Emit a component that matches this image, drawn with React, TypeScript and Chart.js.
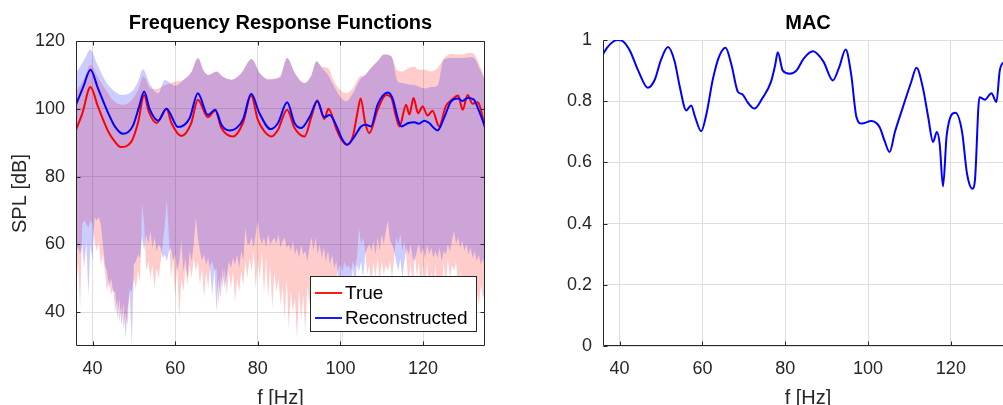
import React, { useEffect, useRef } from "react";
import { Chart, registerables } from "chart.js";

Chart.register(...registerables);

const FONT = "'Liberation Sans', Arial, Helvetica, sans-serif";
const INK = "#262626";
const GRID = "#dfdfdf";

// ---------- axes ----------
const freqTicks = [40, 60, 80, 100, 120];
const splTicks = [40, 60, 80, 100, 120];
const macTicks = [0, 0.2, 0.4, 0.6, 0.8, 1];
const freqRange = [36, 135];
const splRange = [30, 120];
const macRange = [0, 1];

// ---------- FRF lines [f, dB] ----------
const trueResponse: [number, number][] = [
  [36, 93.8], [37.5, 98.5], [39.5, 106.4], [41.3, 100.7], [43.8, 93.3], [45.4, 90.3], [46.8, 88.7],
  [49.4, 90.3], [51, 95.8], [52.5, 104.1], [53.6, 99.2], [55.5, 95.8], [57.9, 100], [59.1, 95.8],
  [61.5, 92], [63.9, 95.8], [65.5, 102.7], [67.9, 97.5], [69.7, 99.5], [71.2, 94.3], [74, 91.8],
  [76.4, 95.8], [78.4, 103.9], [80, 96.8], [81.6, 93.3], [83.3, 91.8], [84.9, 93.8], [87.1, 99.7],
  [88.9, 94.3], [91.3, 91.8], [93, 97.7], [94.4, 102.5], [96.1, 97], [97.1, 100], [99.1, 93.8],
  [100.3, 90.8], [101.6, 89.4], [103, 91.8], [104.1, 98.7], [104.9, 103], [106, 95.8], [107, 92.8],
  [109, 99.7], [111.1, 104.1], [112.3, 103.3], [113.5, 97.5], [114.3, 94.8], [115.9, 101.2],
  [116.7, 98.3], [117.7, 103.2], [118.8, 98.7], [119.9, 100.7], [121.1, 98], [122.3, 99.4],
  [123.9, 94.8], [125.5, 100.7], [127.1, 102.8], [128.5, 103.9], [129.6, 99.7], [130.8, 104.1],
  [132, 101.5], [133.2, 101.9], [135.2, 93.4],
];

const reconResponse: [number, number][] = [
  [36, 101.2], [37.8, 106.6], [39.5, 111.5], [41.3, 106.1], [43.8, 98.7], [45.4, 94.8], [47.4, 92.6],
  [49.7, 94.8], [51.3, 100.7], [52.5, 105.1], [53.8, 100], [55.9, 96.5], [57.9, 100], [60.7, 94.6],
  [63.5, 97.2], [65.5, 104.6], [67.9, 98.2], [69.7, 99.7], [71.2, 95.3], [73.2, 93.6], [76.4, 96.8],
  [78.4, 104.4], [80.4, 98.7], [83.1, 94], [84.9, 95.8], [87.1, 101.9], [88.9, 95.8], [90.5, 94.3],
  [92.6, 97.7], [94.4, 102.2], [96.1, 97.5], [97.4, 98.2], [99.1, 94.8], [100.3, 91.3], [101.6, 89.4],
  [103.4, 91.8], [105, 94.8], [106.2, 95.3], [107.4, 94.8], [109, 101.2], [111.5, 104.8],
  [112.7, 102.8], [113.7, 98], [114.7, 94.8], [116.5, 95.8], [117.9, 96], [119, 95.6], [120.3, 96.5],
  [121.5, 95.8], [122.5, 94.5], [123.5, 93.6], [125, 97], [126.8, 102.2], [128.5, 103], [129.5, 102.3],
  [130.8, 103.2], [132.3, 102.7], [133.5, 99.5], [135.2, 94],
];

// ---------- band upper edges [f, dB] ----------
const trueUpper: [number, number][] = [
  [36, 105], [38, 109], [39.5, 113], [41, 110], [43, 106], [45, 102.5], [47, 101.2], [49, 102],
  [51, 105.5], [52.3, 109.6], [54, 106], [55.5, 105.8], [57.5, 107], [60, 108], [62, 108.5], [64, 111],
  [65.5, 115], [67, 111], [68.1, 110], [70, 111], [71.5, 109.5], [73.6, 108.6], [76, 110.5],
  [78.5, 114.7], [80.5, 110.5], [82.6, 108.8], [85.4, 109.6], [87.1, 115], [89, 110.5], [91.3, 107.6],
  [93, 110], [94.2, 114], [95.5, 112.5], [97, 112], [98.5, 108], [100, 105.5], [101.4, 104.6],
  [103, 106], [104.7, 109.5], [106, 110], [107.4, 112], [109, 114], [110.6, 116], [112.3, 115.5],
  [113.9, 111.2], [115, 111], [116.5, 112], [117.9, 112.5], [119, 111.5], [120.4, 111.5], [122, 111],
  [123.5, 112], [125.5, 115.5], [127, 116.2], [128.5, 116], [130, 116.2], [131.5, 116.5],
  [132.3, 116.2], [134, 112], [135.2, 108],
];

const reconUpper: [number, number][] = [
  [36, 110.5], [38, 114.5], [39.5, 117.4], [41, 113.5], [43, 108.5], [45, 105.5], [47.4, 104.1],
  [49.8, 105.5], [51, 108], [52.2, 111.7], [54, 107], [55.9, 104.6], [57.5, 108.5], [60, 106.8],
  [62, 108.5], [64, 111], [65.5, 115], [67, 111], [68.1, 110], [70, 111], [71.5, 109.5], [73.6, 108.6],
  [76, 110.5], [78.5, 114.7], [80.5, 110.5], [82.6, 108.6], [85.4, 109.2], [87.1, 115], [89, 110.5],
  [91.3, 107.6], [93, 110], [94.2, 114], [95.5, 112], [97, 110], [98.5, 106.5], [100, 103.5],
  [101.4, 102.2], [103, 104.5], [104.7, 108.6], [106, 110], [107.4, 112], [109, 114], [110.6, 116],
  [112.3, 115.5], [113.9, 108], [115, 107.6], [116.5, 107.2], [117.9, 107], [119, 106.5],
  [120.4, 106], [122, 106.4], [123.5, 106.8], [125, 114.5], [127, 115], [128.5, 115], [130, 115],
  [131.5, 115.2], [132.3, 115], [134, 111], [135.2, 108],
];

// ---------- band lower edges, sampled every 0.5 Hz from 36 Hz ----------
const lowerStartHz = 36;
const lowerStepHz = 0.5;
const trueLower = [
  45, 55, 41, 66, 67, 66, 65, 67, 66, 61,
  58, 61, 54, 57, 52, 46, 50, 45, 47, 40,
  44, 37, 42, 35, 40, 36, 47, 46, 50, 47,
  52, 49, 72, 66, 52, 55, 50, 54, 47, 53,
  50, 55, 60, 66, 73, 62, 50, 56, 44, 54,
  38, 50, 46, 53, 48, 54, 50, 56, 52, 55,
  48, 53, 44, 52, 47, 54, 55, 52, 53, 42,
  51, 47, 53, 45, 52, 47, 52, 43, 50, 46,
  52, 48, 55, 50, 56, 52, 58, 47, 55, 50,
  58, 45, 56, 44, 54, 41, 52, 46, 50, 42,
  48, 38, 50, 35, 46, 40, 44, 32, 47, 38,
  45, 34, 48, 42, 50, 44, 51, 46, 49, 43,
  50, 45, 49, 42, 48, 44, 50, 53, 54, 52,
  55, 53, 54, 52, 55, 53, 56, 65, 60, 62,
  58, 51, 54, 48, 55, 50, 56, 49, 55, 51,
  54, 52, 55, 50, 56, 62, 60, 63, 58, 61,
  56, 48, 55, 46, 58, 50, 55, 44, 54, 47,
  55, 43, 52, 46, 54, 42, 51, 45, 55, 47,
  56, 50, 54, 52, 55, 47, 52, 40, 50, 38,
  48, 44, 50, 36, 46, 42, 48, 44, 46,
];
const reconLower = [
  58, 59, 57, 60, 53, 61, 45, 60, 55, 68,
  67, 68, 66, 60, 54, 52, 47, 50, 46, 46,
  38, 44, 36, 43, 32, 41, 46, 30, 54, 55,
  57, 56, 62, 58, 63, 60, 64, 59, 62, 58,
  60, 59, 56, 57, 55, 58, 59, 55, 57, 52,
  55, 61, 52, 56, 50, 58, 55, 60, 68, 62,
  58, 55, 57, 54, 56, 52, 45, 53, 40, 50,
  44, 53, 47, 51, 55, 53, 56, 54, 57, 53,
  58, 55, 65, 60, 60, 62, 59, 63, 67, 62,
  60, 62, 59, 63, 60, 61, 62, 60, 63, 59,
  61, 62, 59, 60, 58, 61, 57, 59, 56, 60,
  57, 58, 55, 59, 62, 58, 62, 57, 60, 56,
  59, 55, 58, 54, 57, 53, 55, 50, 45, 30,
  48, 33, 50, 46, 53, 48, 54, 52, 55, 50,
  57, 59, 60, 58, 61, 57, 62, 58, 63, 60,
  64, 67, 61, 60, 58, 55, 52, 56, 50, 55,
  59, 57, 60, 56, 55, 58, 60, 57, 59, 56,
  60, 57, 59, 56, 58, 56, 59, 55, 58, 57,
  60, 58, 61, 64, 60, 62, 59, 61, 58, 60,
  57, 59, 56, 58, 55, 57, 54, 56, 53,
];

// ---------- MAC [f, value] ----------
const macCurve: [number, number][] = [
  [35.8, 0.949], [37, 0.975], [38.5, 0.995], [39.6, 1.0], [40.8, 0.996], [42.5, 0.965], [44.5, 0.9],
  [46.8, 0.844], [48.5, 0.87], [50, 0.935], [51.7, 0.977], [53.3, 0.93], [54.5, 0.85], [56.1, 0.77],
  [57.3, 0.786], [58.2, 0.75], [59.7, 0.702], [61, 0.76], [62.5, 0.87], [64, 0.945], [65.6, 0.975],
  [67, 0.92], [68.6, 0.83], [69.6, 0.823], [71, 0.795], [72.6, 0.776], [74.5, 0.81], [76.6, 0.865],
  [77.6, 0.92], [78.2, 0.96], [79.4, 0.9], [81.1, 0.89], [82.7, 0.9], [84.5, 0.94], [86.7, 0.963],
  [89.2, 0.93], [91.5, 0.868], [93, 0.91], [94.6, 0.969], [95.9, 0.89], [97.2, 0.748], [98.4, 0.727],
  [100.8, 0.735], [102.8, 0.715], [104, 0.67], [105.2, 0.634], [106.5, 0.7], [108.4, 0.78],
  [110.4, 0.862], [111.7, 0.909], [113.3, 0.84], [114.5, 0.75], [115.7, 0.667], [116.6, 0.699],
  [117.3, 0.66], [118.1, 0.522], [119, 0.69], [121.1, 0.762], [122.7, 0.7], [123.9, 0.563],
  [125.2, 0.514], [125.8, 0.54], [126.9, 0.813], [128.2, 0.805], [129.8, 0.826], [131, 0.797],
  [131.8, 0.9], [133, 0.93], [135, 0.95],
];

const seriesNames = ["True", "Reconstructed"];
const seriesColors = ["#ff0000", "#0000ff"];

const toPoints = (pairs: [number, number][]) => pairs.map(([x, y]) => ({ x, y }));
const gridPoints = (vals: number[]) =>
  vals.map((y, i) => ({ x: lowerStartHz + i * lowerStepHz, y }));

// MATLAB-like axes lines and inward ticks
const matlabAxes = {
  id: "matlabAxes",
  afterDraw(chart: any, _args: any, opts: any) {
    const { ctx, chartArea: a } = chart;
    const xs = chart.scales.x;
    const ys = chart.scales.y;
    const L = Math.round(a.left) + 0.5;
    const R = Math.round(a.right) - 0.5;
    const T = Math.round(a.top) + 0.5;
    const B = Math.round(a.bottom) - 0.5;
    const tl = 4;
    ctx.save();
    ctx.strokeStyle = INK;
    ctx.lineWidth = 1;
    ctx.beginPath();
    xs.ticks.forEach((t: any) => {
      const p = Math.round(xs.getPixelForValue(t.value)) + 0.5;
      ctx.moveTo(p, B);
      ctx.lineTo(p, B - tl);
      if (opts.box) {
        ctx.moveTo(p, T);
        ctx.lineTo(p, T + tl);
      }
    });
    ys.ticks.forEach((t: any) => {
      const p = Math.round(ys.getPixelForValue(t.value)) + 0.5;
      ctx.moveTo(L, p);
      ctx.lineTo(L + tl, p);
      if (opts.box) {
        ctx.moveTo(R, p);
        ctx.lineTo(R - tl, p);
      }
    });
    ctx.moveTo(L, T);
    ctx.lineTo(L, B);
    ctx.lineTo(R, B);
    if (opts.box) {
      ctx.lineTo(R, T);
      ctx.lineTo(L, T);
    }
    ctx.stroke();
    ctx.restore();
  },
};

const frfLegend = {
  id: "frfLegend",
  afterDraw(chart: any, _args: any, opts: any) {
    if (!opts || !opts.items) return;
    const { ctx } = chart;
    const { x, y, w, h, items, rowGap, firstRow } = opts;
    ctx.save();
    ctx.fillStyle = "#ffffff";
    ctx.fillRect(x, y, w, h);
    ctx.strokeStyle = INK;
    ctx.lineWidth = 1;
    ctx.strokeRect(x + 0.5, y + 0.5, w - 1, h - 1);
    ctx.font = `19px ${FONT}`;
    ctx.textBaseline = "middle";
    ctx.textAlign = "left";
    items.forEach((it: any, i: number) => {
      const cy = y + firstRow + i * rowGap;
      ctx.strokeStyle = it.color;
      ctx.lineWidth = 1.8;
      ctx.beginPath();
      ctx.moveTo(x + 5, cy);
      ctx.lineTo(x + 32, cy);
      ctx.stroke();
      ctx.fillStyle = "#000000";
      ctx.fillText(it.label, x + 35, cy + 1);
    });
    ctx.restore();
  },
};

function axisX() {
  return {
    type: "linear",
    min: freqRange[0],
    max: freqRange[1],
    afterBuildTicks: (s: any) => {
      s.ticks = freqTicks.map((v) => ({ value: v }));
    },
    afterFit: (s: any) => {
      s.height = 64;
    },
    grid: { color: GRID, lineWidth: 1, drawTicks: false },
    border: { display: false },
    ticks: {
      autoSkip: false,
      maxRotation: 0,
      padding: 12,
      color: INK,
      font: { family: FONT, size: 18 },
    },
    title: {
      display: true,
      text: "f [Hz]",
      color: INK,
      font: { family: FONT, size: 20 },
      padding: { top: 0, bottom: 0 },
    },
  };
}

function FrfChart() {
  const ref = useRef<HTMLCanvasElement | null>(null);
  useEffect(() => {
    if (!ref.current) return;
    const chart = new Chart(ref.current, {
      type: "line",
      data: {
        datasets: [
          {
            label: seriesNames[1],
            data: toPoints(reconResponse),
            borderColor: seriesColors[1],
            borderWidth: 2,
            pointRadius: 0,
            fill: false,
            cubicInterpolationMode: "monotone",
          },
          {
            label: seriesNames[0],
            data: toPoints(trueResponse),
            borderColor: seriesColors[0],
            borderWidth: 2,
            pointRadius: 0,
            fill: false,
            cubicInterpolationMode: "monotone",
          },
          {
            label: "reconUpper",
            data: toPoints(reconUpper),
            borderWidth: 0,
            borderColor: "rgba(0,0,0,0)",
            backgroundColor: "rgba(0,0,255,0.2)",
            pointRadius: 0,
            fill: "+1",
            cubicInterpolationMode: "monotone",
          },
          {
            label: "reconLower",
            data: gridPoints(reconLower),
            borderWidth: 0,
            borderColor: "rgba(0,0,0,0)",
            pointRadius: 0,
            fill: false,
            tension: 0,
          },
          {
            label: "trueUpper",
            data: toPoints(trueUpper),
            borderWidth: 0,
            borderColor: "rgba(0,0,0,0)",
            backgroundColor: "rgba(255,0,0,0.2)",
            pointRadius: 0,
            fill: "+1",
            cubicInterpolationMode: "monotone",
          },
          {
            label: "trueLower",
            data: gridPoints(trueLower),
            borderWidth: 0,
            borderColor: "rgba(0,0,0,0)",
            pointRadius: 0,
            fill: false,
            tension: 0,
          },
        ],
      },
      options: {
        responsive: false,
        animation: false,
        devicePixelRatio: 1,
        parsing: false,
        layout: { padding: { left: 0, right: 25, top: 0, bottom: 0 } },
        scales: {
          x: axisX() as any,
          y: {
            type: "linear",
            min: splRange[0],
            max: splRange[1],
            afterBuildTicks: (s: any) => {
              s.ticks = splTicks.map((v) => ({ value: v }));
            },
            afterFit: (s: any) => {
              s.width = 76;
            },
            grid: { color: GRID, lineWidth: 1, drawTicks: false },
            border: { display: false },
            ticks: {
              autoSkip: false,
              padding: 11,
              color: INK,
              font: { family: FONT, size: 18 },
            },
            title: {
              display: true,
              text: "SPL [dB]",
              color: INK,
              font: { family: FONT, size: 20 },
              padding: { top: 8, bottom: 0 },
            },
          },
        },
        plugins: {
          legend: { display: false },
          tooltip: { enabled: false },
          title: {
            display: true,
            text: "Frequency Response Functions",
            fullSize: false,
            color: "#000000",
            font: { family: FONT, size: 20, weight: "bold" },
            padding: { top: 11, bottom: 6 },
          },
          matlabAxes: { box: true },
          frfLegend: {
            x: 310,
            y: 276,
            w: 167,
            h: 56,
            firstRow: 17,
            rowGap: 25,
            items: [
              { label: seriesNames[0], color: seriesColors[0] },
              { label: seriesNames[1], color: seriesColors[1] },
            ],
          },
        } as any,
      },
      plugins: [matlabAxes, frfLegend],
    } as any);
    return () => chart.destroy();
  }, []);
  return (
    <canvas
      ref={ref}
      width={510}
      height={410}
      style={{ position: "absolute", left: 0, top: 0, width: 510, height: 410 }}
    />
  );
}

function MacChart() {
  const ref = useRef<HTMLCanvasElement | null>(null);
  useEffect(() => {
    if (!ref.current) return;
    const chart = new Chart(ref.current, {
      type: "line",
      data: {
        datasets: [
          {
            label: "MAC",
            data: toPoints(macCurve),
            borderColor: "#0000ff",
            borderWidth: 2,
            pointRadius: 0,
            fill: false,
            cubicInterpolationMode: "monotone",
          },
        ],
      },
      options: {
        responsive: false,
        animation: false,
        devicePixelRatio: 1,
        parsing: false,
        layout: { padding: { left: 0, right: 17, top: 0, bottom: 0 } },
        scales: {
          x: axisX() as any,
          y: {
            type: "linear",
            min: macRange[0],
            max: macRange[1],
            afterBuildTicks: (s: any) => {
              s.ticks = macTicks.map((v) => ({ value: v }));
            },
            afterFit: (s: any) => {
              s.width = 93;
            },
            grid: { color: GRID, lineWidth: 1, drawTicks: false },
            border: { display: false },
            ticks: {
              autoSkip: false,
              padding: 11,
              color: INK,
              font: { family: FONT, size: 18 },
              callback: (v: any) => {
                const n = Number(v);
                if (n === 0) return "0";
                if (n === 1) return "1";
                return n.toFixed(1);
              },
            },
          },
        },
        plugins: {
          legend: { display: false },
          tooltip: { enabled: false },
          title: {
            display: true,
            text: "MAC",
            fullSize: false,
            color: "#000000",
            font: { family: FONT, size: 20, weight: "bold" },
            padding: { top: 11, bottom: 5 },
          },
          matlabAxes: { box: false },
        } as any,
      },
      plugins: [matlabAxes],
    } as any);
    return () => chart.destroy();
  }, []);
  return (
    <canvas
      ref={ref}
      width={520}
      height={410}
      style={{ position: "absolute", left: 510, top: 0, width: 520, height: 410 }}
    />
  );
}

export default function App() {
  return (
    <div
      style={{
        position: "fixed",
        left: 0,
        top: 0,
        width: 1003,
        height: 405,
        overflow: "hidden",
        background: "#ffffff",
      }}
    >
      <FrfChart />
      <MacChart />
    </div>
  );
}
